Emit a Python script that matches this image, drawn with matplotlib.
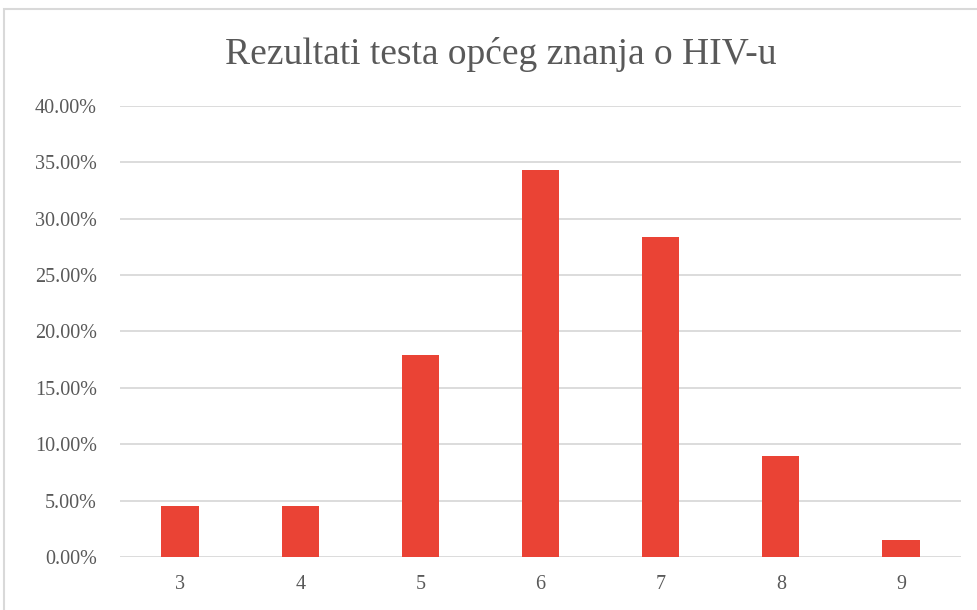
import matplotlib.pyplot as plt
from matplotlib.patches import Rectangle
from matplotlib.ticker import FuncFormatter, MultipleLocator

# data (share of respondents per score)
scores = ["3", "4", "5", "6", "7", "8", "9"]
shares = [4.48, 4.48, 17.91, 34.33, 28.36, 8.96, 1.49]

BAR_COLOR = "#EA4335"
TEXT_COLOR = "#595959"
GRID_COLOR = "#D9D9D9"

plt.rcParams["font.family"] = ["Liberation Serif", "DejaVu Serif"]

fig = plt.figure(figsize=(9.78, 6.1), dpi=100)
ax = fig.add_axes([120 / 978, 53 / 610, 841 / 978, 451 / 610])

x = range(len(scores))
ax.bar(x, shares, width=0.31, color=BAR_COLOR, zorder=3)

ax.set_xlim(-0.5, len(scores) - 0.5)
ax.set_ylim(0, 40)
ax.yaxis.set_major_locator(MultipleLocator(5))
ax.yaxis.set_major_formatter(FuncFormatter(lambda v, p: f"{v:.2f}%"))
ax.set_xticks(list(x))
ax.set_xticklabels(scores)

ax.grid(axis="y", color=GRID_COLOR, linewidth=1.3, zorder=0)
for s in ax.spines.values():
    s.set_visible(False)
ax.tick_params(axis="both", length=0, labelsize=14.5, labelcolor=TEXT_COLOR)
ax.tick_params(axis="y", pad=16.5)
ax.tick_params(axis="x", pad=13)

fig.text(0.512, 1 - 54 / 610, "Rezultati testa općeg znanja o HIV-u",
         ha="center", va="center", fontsize=27, color=TEXT_COLOR)

# chart frame, cut off on the right and bottom like the screenshot
fig.patches.append(Rectangle((4 / 978, -0.05), 1.1, 1 - 9 / 610 + 0.05,
                             transform=fig.transFigure, fill=False,
                             edgecolor=GRID_COLOR, linewidth=1.5))

fig.savefig("out.png", dpi=100)
